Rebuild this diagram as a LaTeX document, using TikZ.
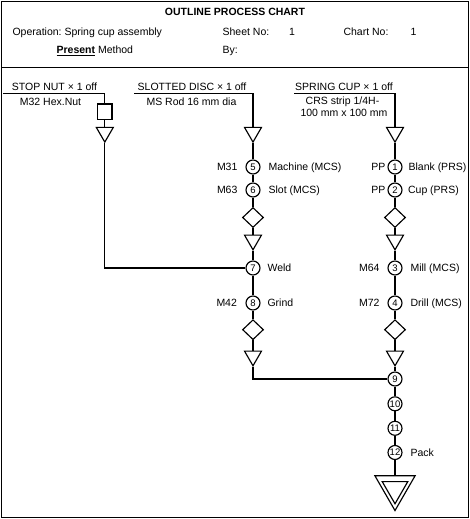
\documentclass[tikz,border=0pt]{standalone}
\usepackage{fontspec}
\setmainfont{Liberation Sans}
\usetikzlibrary{shapes.geometric}
\frenchspacing
\begin{document}
\begin{tikzpicture}[x=1pt,y=-1pt,line width=1.15pt,
  every node/.style={font=\fontsize{10.5}{12}\selectfont,inner sep=0pt},
  op/.style={circle,draw,fill=white,minimum size=14pt,inner sep=0pt,font=\fontsize{9.5}{10}\selectfont},
  tri/.style={regular polygon,regular polygon sides=3,shape border rotate=180,draw,fill=white,minimum size=19.6pt,inner sep=0pt},
  insp/.style={diamond,draw,fill=white,aspect=1,minimum width=21pt,minimum height=20pt,inner sep=0pt},
  stbox/.style={rectangle,draw,fill=white,minimum width=14.5pt,minimum height=15.5pt,inner sep=0pt},
  lab/.style={anchor=base east},
  rab/.style={anchor=base west}]
\useasboundingbox (0,0) rectangle (470,519);
% frame and header
\draw (1.2,1.2) rectangle (468.8,517.8);
\coordinate (hl) at (1.2,67.5);
\coordinate (hr) at (468.8,67.5);
\draw (hl) -- (hr);
\node[anchor=base,font=\bfseries\fontsize{10.5}{12}\selectfont] (title) at (235,15.3) {OUTLINE PROCESS CHART};
\node[rab] (oper) at (12,36) {Operation: Spring cup assembly};
\node[rab] (sheet) at (222,36) {Sheet No:};
\node[anchor=base] (sheetn) at (292,36) {1};
\node[rab] (chart) at (343,36) {Chart No:};
\node[anchor=base] (chartn) at (413.5,36) {1};
\node[rab] (meth) at (56,53.5) {\underline{\textbf{Present}} Method};
\node[rab] (by) at (222,53.5) {By:};
% material headings
\node[anchor=base] (hA) at (54.5,90.7) {STOP NUT \texttimes{} 1 off};
\node[anchor=base] (mA) at (50.5,105.5) {M32 Hex.Nut};
\node[anchor=base] (hB) at (192,90.7) {SLOTTED DISC \texttimes{} 1 off};
\node[anchor=base] (mB) at (191.5,105.5) {MS Rod 16 mm dia};
\node[anchor=base] (hC) at (344,90.7) {SPRING CUP \texttimes{} 1 off};
\node[anchor=base] (mC1) at (342.5,104.5) {CRS strip 1/4H-};
\node[anchor=base] (mC2) at (344,116.8) {100 mm x 100 mm};
\coordinate (sA) at (3,93.3);
\coordinate (sB) at (134,93.3);
\coordinate (sC) at (294,93.3);
% column A
\node[stbox] (boxA) at (104.8,111.7) {};
\node[tri] (tA) at (104.8,132.3) {};
% column B
\node[tri] (tB1) at (253,132.3) {};
\node[op] (c5) at (253,167) {5};
\node[op] (c6) at (253,190) {6};
\node[insp] (dB1) at (253,217.5) {};
\node[tri] (tB2) at (253,240) {};
\node[op] (c7) at (253,268) {7};
\node[op] (c8) at (253,303) {8};
\node[insp] (dB2) at (253,329.7) {};
\node[tri] (tB3) at (253,356) {};
% column C
\node[tri] (tC1) at (395,132.3) {};
\node[op] (c1) at (395,167) {1};
\node[op] (c2) at (395,190) {2};
\node[insp] (dC1) at (395,217.5) {};
\node[tri] (tC2) at (395,240) {};
\node[op] (c3) at (395,268) {3};
\node[op] (c4) at (395,303) {4};
\node[insp] (dC2) at (395,329.7) {};
\node[tri] (tC3) at (395,356) {};
\node[op] (c9) at (395,379) {9};
\node[op] (c10) at (395,403.8) {10};
\node[op] (c11) at (395,428.3) {11};
\node[op] (c12) at (395,452.5) {12};
\node[regular polygon,regular polygon sides=3,shape border rotate=180,draw,minimum size=46.5pt,inner sep=0pt] (store) at (395,487.3) {};
\node[regular polygon,regular polygon sides=3,shape border rotate=180,draw,minimum size=29.5pt,inner sep=0pt] (storein) at (395,489) {};
% labels
\node[lab] (l5) at (238,170.8) {M31};
\node[rab] (r5) at (268,170.8) {Machine (MCS)};
\node[lab] (l6) at (238,193.8) {M63};
\node[rab] (r6) at (268,193.8) {Slot (MCS)};
\node[rab] (r7) at (267,271.8) {Weld};
\node[lab] (l8) at (237.5,306.8) {M42};
\node[rab] (r8) at (267,306.8) {Grind};
\node[lab] (l1) at (386,170.8) {PP};
\node[rab] (r1) at (408,170.8) {Blank (PRS)};
\node[lab] (l2) at (386,193.8) {PP};
\node[rab] (r2) at (407.5,193.8) {Cup (PRS)};
\node[lab] (l3) at (380,271.8) {M64};
\node[rab] (r3) at (410,271.8) {Mill (MCS)};
\node[lab] (l4) at (380,306.8) {M72};
\node[rab] (r4) at (410,306.8) {Drill (MCS)};
\node[rab] (r12) at (410,456.3) {Pack};
% connectors
\draw (sA) -| (boxA);
\draw (sB) -| (tB1);
\draw (sC) -| (tC1);
\draw (tA) |- (c7);
\draw (tB3) |- (c9);
\foreach \a/\b in {boxA/tA,tB1/c5,c5/c6,c6/dB1,dB1/tB2,tB2/c7,c7/c8,c8/dB2,dB2/tB3,
  tC1/c1,c1/c2,c2/dC1,dC1/tC2,tC2/c3,c3/c4,c4/dC2,dC2/tC3,tC3/c9,c9/c10,c10/c11,c11/c12,c12/store}
  \draw (\a) -- (\b);
\end{tikzpicture}
\end{document}
